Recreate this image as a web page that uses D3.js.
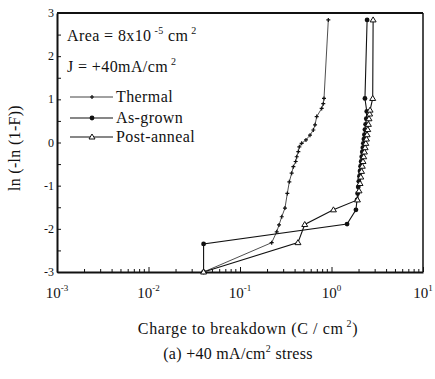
<!DOCTYPE html>
<html><head><meta charset="utf-8">
<script src="https://cdn.jsdelivr.net/npm/d3@7"></script>
<style>body{margin:0;background:#fff}svg{display:block}text{font-family:"Liberation Serif","DejaVu Serif",serif;fill:#111}</style>
</head><body>
<svg id="c" width="435" height="379"></svg>
<script>
const thermalX = [0.04,0.222,0.252,0.267,0.286,0.31,0.329,0.346,0.367,0.383,0.406,0.417,0.434,0.445,0.472,0.526,0.582,0.633,0.661,0.689,0.781,0.813,0.828,0.923];
const thermalY = [-3,-2.32,-2.07,-1.91,-1.72,-1.52,-1.18,-0.91,-0.71,-0.56,-0.44,-0.33,-0.21,-0.10,-0.02,0.06,0.17,0.29,0.41,0.60,0.79,0.90,1.02,2.84];
const asGrownX = [0.04,0.04,1.48,1.85,1.90,1.93,1.96,1.99,2.02,2.05,2.08,2.11,2.14,2.17,2.20,2.23,2.26,2.29,2.32,2.36,2.40,2.43,2.32,2.45];
const asGrownY = [-3,-2.35,-1.89,-1.56,-1.33,-1.18,-1.03,-0.9,-0.78,-0.66,-0.55,-0.44,-0.33,-0.22,-0.12,-0.02,0.08,0.18,0.30,0.42,0.55,0.72,1.02,2.84];
const postX = [0.04,0.43,0.51,1.05,1.92,2.0,2.05,2.09,2.13,2.17,2.21,2.25,2.29,2.33,2.37,2.41,2.45,2.49,2.53,2.57,2.61,2.64,2.82,2.85];
const postY = [-3,-2.32,-1.9,-1.56,-1.33,-1.12,-0.95,-0.8,-0.67,-0.55,-0.44,-0.33,-0.22,-0.12,-0.02,0.08,0.18,0.30,0.42,0.55,0.66,0.75,1.02,2.84];
const xTickVals = [1e-3,1e-2,1e-1,1e0,1e1];
const xTickExp = ["-3","-2","-1","0","1"];
const yTickVals = [3,2,1,0,-1,-2,-3];
const yTickLabels = ["3","2","1","0","-1","-2","-3"];
const seriesNames = ["Thermal","As-grown","Post-anneal"];

const svg = d3.select("#c");
const L=57, R=423, T=13, B=272;
const x = d3.scaleLog().domain([1e-3,1e1]).range([L,R]);
const y = d3.scaleLinear().domain([-3,3]).range([B,T]);
const FS = 16, LS = "0.4px";

// frame
svg.append("line").attr("x1",L).attr("x2",R).attr("y1",T).attr("y2",T).attr("stroke","#111").attr("stroke-width",2);
svg.append("line").attr("x1",R).attr("x2",R).attr("y1",T).attr("y2",B).attr("stroke","#111").attr("stroke-width",1.5);

// axes
const xAxis = d3.axisBottom(x).tickValues(xTickVals).tickSizeInner(-5).tickSizeOuter(0).tickFormat("");
const gx = svg.append("g").attr("transform",`translate(0,${B})`).call(xAxis);
gx.select(".domain").attr("stroke","#111").attr("stroke-width",2);
gx.selectAll(".tick line").attr("stroke","#111");
const minor = [];
for (let e=-3;e<1;e++) for (let m=2;m<10;m++) minor.push(m*Math.pow(10,e));
gx.selectAll(".mn").data(minor).enter().append("line").attr("class","mn")
  .attr("x1",d=>x(d)).attr("x2",d=>x(d)).attr("y1",0).attr("y2",-3).attr("stroke","#111").attr("stroke-width",1);
xTickVals.forEach((v,i)=>{
  const t = svg.append("text").attr("x",x(v)).attr("y",298).attr("text-anchor","middle").attr("font-size",15);
  t.append("tspan").text("10");
  t.append("tspan").attr("dy",-7).attr("font-size",9).text(xTickExp[i]);
});

const yAxis = d3.axisLeft(y).tickValues(d3.range(-3,3.01,0.5)).tickSizeInner(-4).tickSizeOuter(0).tickFormat("");
const gy = svg.append("g").attr("transform",`translate(${L},0)`).call(yAxis);
gy.select(".domain").attr("stroke","#111").attr("stroke-width",2);
gy.selectAll(".tick line").attr("stroke","#111");
yTickVals.forEach((v,i)=>{
  svg.append("text").attr("x",54).attr("y",y(v)+4).attr("text-anchor","end").attr("font-size",12).text(yTickLabels[i]);
});

// series
const line = d3.line().x(d=>x(d[0])).y(d=>y(d[1]));
const th = thermalX.map((v,i)=>[v,thermalY[i]]);
const ag = asGrownX.map((v,i)=>[v,asGrownY[i]]);
const pa = postX.map((v,i)=>[v,postY[i]]);
svg.append("path").attr("d",line(th)).attr("fill","none").attr("stroke","#222").attr("stroke-width",0.8);
svg.append("path").attr("d",line(ag)).attr("fill","none").attr("stroke","#111").attr("stroke-width",1.1);
svg.append("path").attr("d",line(pa)).attr("fill","none").attr("stroke","#111").attr("stroke-width",1.1);

function cross(g,cx,cy){g.append("path").attr("d",`M${cx-2},${cy}H${cx+2}M${cx},${cy-2}V${cy+2}`).attr("stroke","#111").attr("stroke-width",1.2);}
function dot(g,cx,cy){g.append("circle").attr("cx",cx).attr("cy",cy).attr("r",2.4).attr("fill","#111");}
function tri(g,cx,cy){g.append("path").attr("d",`M${cx},${cy-3}L${cx+3},${cy+2}L${cx-3},${cy+2}Z`).attr("fill","#fff").attr("stroke","#111").attr("stroke-width",1);}
const gm = svg.append("g");
th.forEach(d=>cross(gm,x(d[0]),y(d[1])));
ag.forEach(d=>dot(gm,x(d[0]),y(d[1])));
pa.forEach(d=>tri(gm,x(d[0]),y(d[1])));

// annotations
const a1 = svg.append("text").attr("x",67).attr("y",41).attr("font-size",FS).attr("letter-spacing",LS);
a1.append("tspan").text("Area = 8x10");
a1.append("tspan").attr("dy",-7).attr("font-size",10).text(" -5");
a1.append("tspan").attr("dy",7).text(" cm");
a1.append("tspan").attr("dy",-7).attr("font-size",10).text(" 2");
const a2 = svg.append("text").attr("x",67).attr("y",72).attr("font-size",FS).attr("letter-spacing",LS);
a2.append("tspan").text("J = +40mA/cm");
a2.append("tspan").attr("dy",-7).attr("font-size",10).text(" 2");

// legend
const legY=[97,118,137];
const markers=[cross,dot,tri];
seriesNames.forEach((n,i)=>{
  svg.append("line").attr("x1",70).attr("x2",113).attr("y1",legY[i]).attr("y2",legY[i]).attr("stroke","#111").attr("stroke-width",i===0?0.8:1.1);
  markers[i](svg,92,legY[i]);
  svg.append("text").attr("x",116).attr("y",legY[i]+5).attr("font-size",FS).attr("letter-spacing",LS).text(n);
});

// axis titles
svg.append("text").attr("transform","translate(20,148) rotate(-90)").attr("text-anchor","middle").attr("font-size",16).attr("letter-spacing","0.3px").text("ln (-ln (1-F))");
const xt = svg.append("text").attr("x",248).attr("y",334).attr("text-anchor","middle").attr("font-size",16).attr("letter-spacing","0.6px");
xt.append("tspan").text("Charge to breakdown (C / cm");
xt.append("tspan").attr("dy",-7).attr("font-size",10).text(" 2");
xt.append("tspan").attr("dy",7).text(")");
const cap = svg.append("text").attr("x",238).attr("y",359).attr("text-anchor","middle").attr("font-size",16).attr("letter-spacing","0.3px");
cap.append("tspan").text("(a) +40 mA/cm");
cap.append("tspan").attr("dy",-7).attr("font-size",10).text("2");
cap.append("tspan").attr("dy",7).text(" stress");
</script>
</body></html>
